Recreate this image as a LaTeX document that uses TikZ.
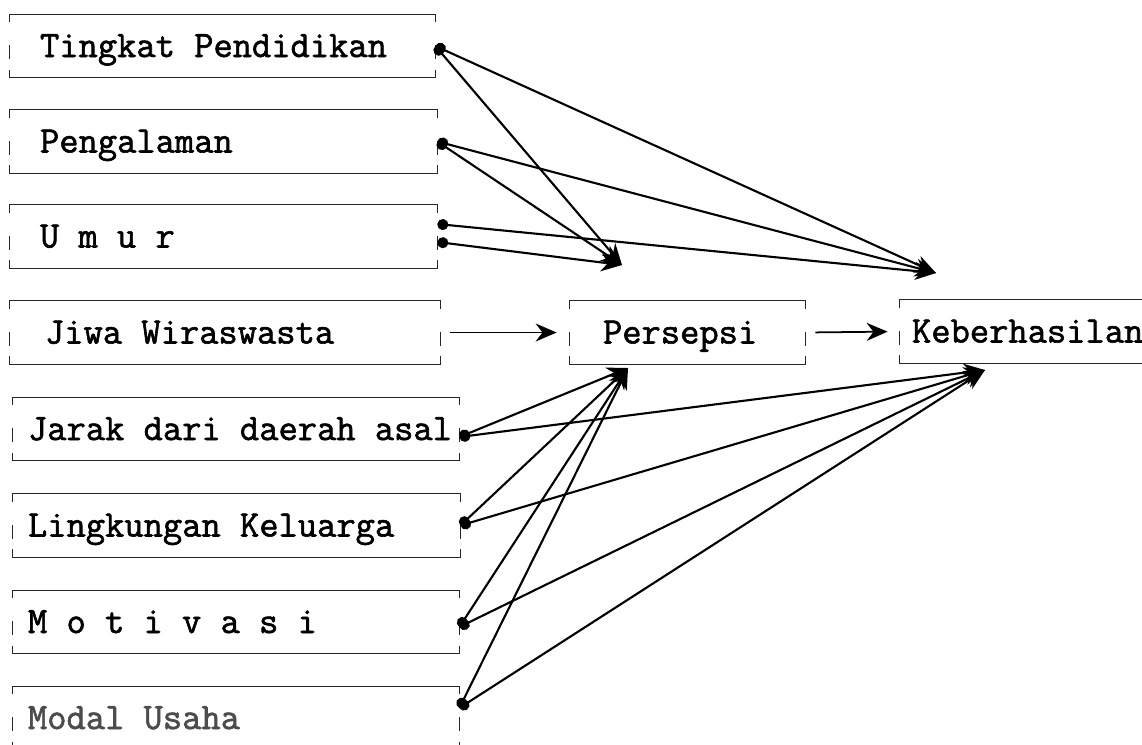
\documentclass[tikz,border=0pt]{standalone}
\usepackage{fontspec}
\usepackage{tikz}
\usetikzlibrary{arrows.meta}
\def\kurung(#1){%
  \draw[bingkai] ([yshift=-1.6mm]#1.north west) -- (#1.north west) -- (#1.north east) -- ([yshift=-1.6mm]#1.north east);
  \draw[bingkai] ([yshift=1.6mm]#1.south west) -- (#1.south west) -- (#1.south east) -- ([yshift=1.6mm]#1.south east);
  \draw[bingkai, line width=0.9pt] ([yshift=-2.6mm]#1.west) -- ([yshift=0.2mm]#1.west);
  \draw[bingkai, line width=0.9pt] ([yshift=-2.6mm]#1.east) -- ([yshift=0.2mm]#1.east);}
\newfontfamily\ketik{Latin Modern Mono}[FakeBold=1.6]

\begin{document}
\begin{tikzpicture}[
	kotak/.style={font=\ketik\fontsize{21.3}{24}\selectfont, minimum height=1.26cm, align=left, inner sep=0pt, text height=0.5cm, text depth=0.06cm},
	geser/.style={execute at begin node={\spaceskip=0.514em\relax\kern#1\relax}},
	bingkai/.style={line width=0.5pt, black!85},
	panah/.style={line width=1.2pt, {Circle[length=2.2mm]}-{Stealth[length=4.2mm,width=3.6mm]}},
	lurus/.style={line width=1pt, -{Stealth[length=4.2mm,width=3.6mm]}}]
		%%%%% START %%%%%
		\useasboundingbox (0,0) rectangle (22.84,-14.88);
		
		\node[kotak, geser=0.6cm, text width=8.5cm] (tp) at (4.45,-0.92) {Tingkat Pendidikan};
		\node[kotak, geser=0.6cm, text width=8.54cm] (pg) at (4.47,-2.83) {Pengalaman};
		\node[kotak, geser=0.6cm, text width=8.54cm] (um) at (4.47,-4.73) {U m u r};
		\node[kotak, geser=0.7cm, text width=8.6cm] (jw) at (4.5,-6.65) {Jiwa Wiraswasta};
		
		\node[kotak, geser=0.3cm, text width=8.92cm] (jr) at (4.72,-8.58) {Jarak dari daerah asal};
		\node[kotak, geser=0.3cm, text width=8.94cm] (lk) at (4.73,-10.51) {Lingkungan Keluarga};
		\node[kotak, geser=0.3cm, text width=8.92cm] (mo) at (4.72,-12.44) {M o t i v a s i};
		\node[kotak, geser=0.3cm, text width=8.92cm, text=black!70] (mu) at (4.72,-14.36) {Modal Usaha};
		
		\node[kotak, geser=0.66cm, text width=4.7cm] (ps) at (13.75,-6.65) {Persepsi};
		\node[kotak, geser=0.24cm, text width=5.2cm] (kb) at (20.6,-6.63) {Keberhasilan};
		
		\foreach \n in {tp,pg,um,jw,jr,lk,mo,mu,ps,kb} {\kurung(\n)}
		
		\coordinate (atasP) at (12.44,-5.3);
		\coordinate (atasK) at (18.72,-5.46);
		\coordinate (bawahP) at (12.56,-7.36);
		\coordinate (bawahK) at (19.7,-7.4);
		
		\draw[panah] (tp.east) -- (atasP);
		\draw[panah] (tp.east) -- (atasK);
		\draw[panah] (pg.east) -- (atasP);
		\draw[panah] (pg.east) -- (atasK);
		\draw[panah] ([yshift=2.5mm]um.east) -- (atasK);
		\draw[panah] ([yshift=-1.1mm]um.east) -- (atasP);
		
		\draw[lurus, shorten <=0.2cm, shorten >=0.26cm] (jw.east) -- (ps.west);
		\draw[lurus, shorten <=0.2cm, shorten >=0.24cm] (ps.east) -- (kb.west);
		
		\draw[panah] ([yshift=-1.6mm]jr.east) -- (bawahP);
		\draw[panah] ([yshift=-1.6mm]jr.east) -- (bawahK);
		\draw[panah] (lk.east) -- (bawahP);
		\draw[panah] (lk.east) -- (bawahK);
		\draw[panah] ([yshift=-1mm]mo.east) -- (bawahP);
		\draw[panah] ([yshift=-1mm]mo.east) -- (bawahK);
		\draw[panah] ([yshift=2mm]mu.east) -- (bawahP);
		\draw[panah] ([yshift=2mm]mu.east) -- (bawahK);
		%%%%% END %%%%%
\end{tikzpicture}
\end{document}
